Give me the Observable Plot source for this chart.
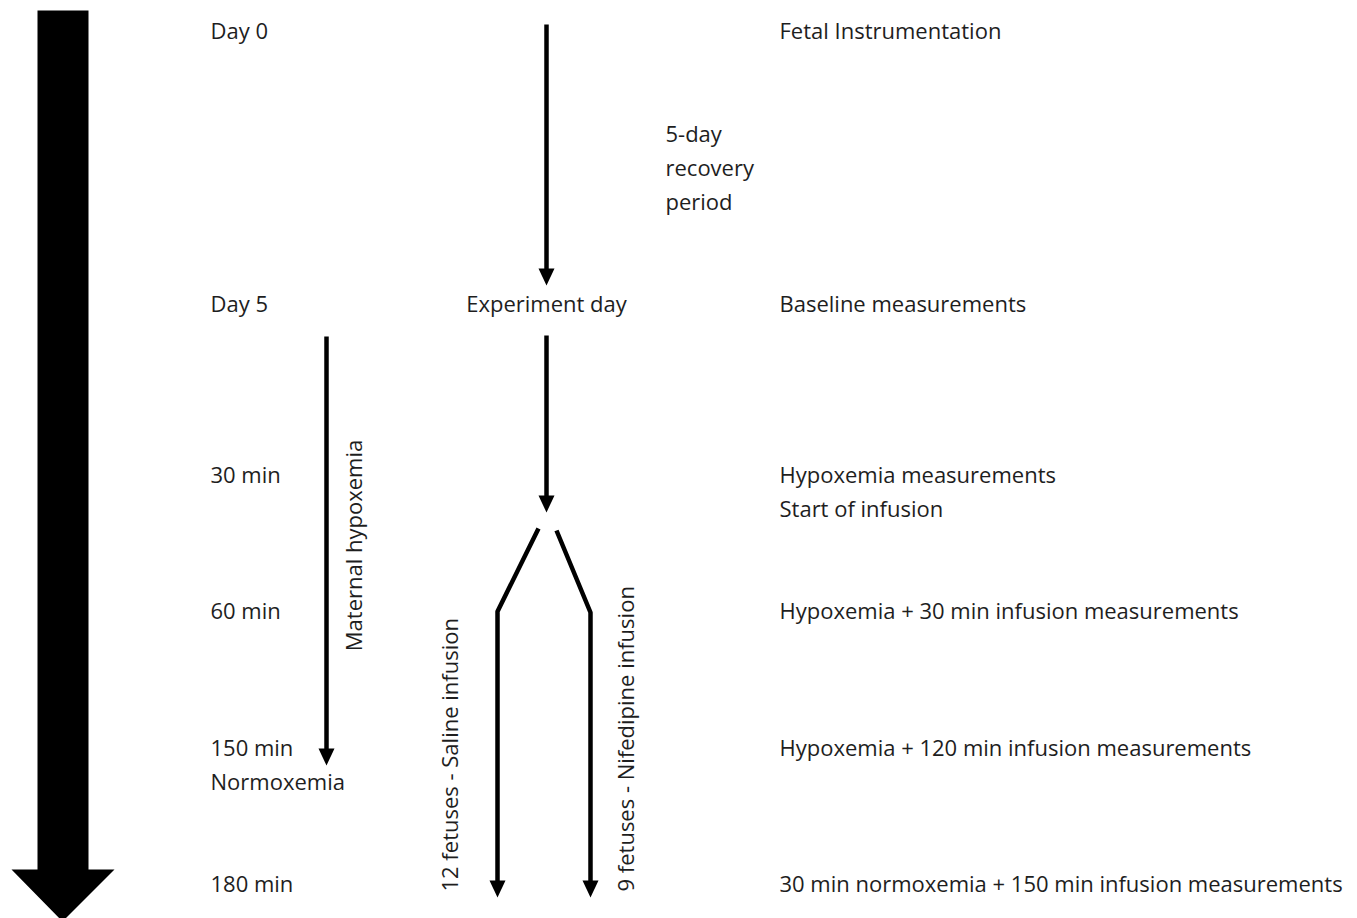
<!DOCTYPE html>
<html><head><meta charset="utf-8">
<script src="https://cdn.jsdelivr.net/npm/d3@7"></script>
<script src="https://cdn.jsdelivr.net/npm/@observablehq/plot@0.6"></script>
<style>body{margin:0;background:#fff;overflow:hidden}</style>
</head><body><div id="chart"></div>
<script>
// Timeline stages (left column) and their row positions in diagram units
const stageLabels = ["Day 0", "Day 5", "30 min", "60 min", "150 min", "Normoxemia", "180 min"];
const stageRows   = [31, 304, 475, 611, 748, 782, 884];
// Events (right column)
const eventLabels = ["Fetal Instrumentation", "Baseline measurements", "Hypoxemia measurements", "Start of infusion",
  "Hypoxemia + 30 min infusion measurements", "Hypoxemia + 120 min infusion measurements",
  "30 min normoxemia + 150 min infusion measurements"];
const eventRows   = [31, 304, 475, 509, 611, 748, 884];
// Middle flow labels
const flowLabels = ["5-day", "recovery", "period", "Experiment day"];
const flowRows   = [134, 168, 202, 304];
// Vertical (rotated) labels
const sideLabels = ["Maternal hypoxemia", "12 fetuses - Saline infusion", "9 fetuses - Nifedipine infusion"];
// Arrow paths (name, points), the last point is the tip
const arrowNames = ["recovery", "experiment", "maternal", "saline", "nifedipine"];
const arrowPaths = [
  [[546, 24], [546, 285]],
  [[546, 335], [546, 512]],
  [[326, 336], [326, 765]],
  [[538, 528], [497, 611], [497, 897]],
  [[556, 530], [590, 612], [590, 897]]
];

const W = 1357, H = 918;
const font = "'Open Sans', sans-serif";
const fs = 22;
const ink = "#1e1e1e";
const headLen = 17, headHalf = 8;

const shafts = [], heads = [];
arrowPaths.forEach((pts, i) => {
  const tip = pts[pts.length - 1];
  pts.forEach((p, j) => {
    const y = j === pts.length - 1 ? p[1] - headLen + 2 : p[1];
    shafts.push({id: arrowNames[i], x: p[0], y});
  });
  [[tip[0] - headHalf, tip[1] - headLen], [tip[0] + headHalf, tip[1] - headLen], [tip[0], tip[1]]]
    .forEach(([x, y]) => heads.push({id: arrowNames[i], x, y}));
});

// Big timeline arrow on the left
const bigArrow = [[37, 10], [88, 10], [88, 869], [114, 869], [62, 921], [11, 869], [37, 869]]
  .map(([x, y]) => ({x, y}));

const stages = stageLabels.map((t, i) => ({t, y: stageRows[i]}));
const events = eventLabels.map((t, i) => ({t, y: eventRows[i]}));
const flows = flowLabels.map((t, i) => ({t, y: flowRows[i], x: i < 3 ? 665 : 546, anchor: i < 3 ? "start" : "middle"}));
const sides = [
  {t: sideLabels[0], x: 354, y: 545, anchor: "middle"},
  {t: sideLabels[1], x: 450, y: 891, anchor: "start"},
  {t: sideLabels[2], x: 626, y: 891, anchor: "start"}
];

const chart = Plot.plot({
  width: W, height: H,
  margin: 0,
  x: {domain: [0, W], range: [0, W], axis: null},
  y: {domain: [0, H], range: [0, H], axis: null},
  style: {fontFamily: font, background: "#fff", overflow: "visible"},
  marks: [
    Plot.line(bigArrow, {x: "x", y: "y", fill: "#000", stroke: "none", curve: "linear-closed"}),
    Plot.line(shafts, {x: "x", y: "y", z: "id", stroke: "#000", strokeWidth: 4.5, strokeLinejoin: "miter", strokeLinecap: "butt"}),
    Plot.line(heads, {x: "x", y: "y", z: "id", fill: "#000", stroke: "none", curve: "linear-closed"}),
    Plot.text(stages, {x: () => 210, y: "y", text: "t", textAnchor: "start", fontSize: fs, fill: ink}),
    Plot.text(events, {x: () => 779, y: "y", text: "t", textAnchor: "start", fontSize: fs, fill: ink}),
    Plot.text(flows, {x: "x", y: "y", text: "t", textAnchor: "start", fontSize: fs, fill: ink, filter: d => d.anchor === "start"}),
    Plot.text(flows, {x: "x", y: "y", text: "t", textAnchor: "middle", fontSize: fs, fill: ink, filter: d => d.anchor === "middle"}),
    Plot.text(sides, {x: "x", y: "y", text: "t", rotate: -90, textAnchor: "middle", fontSize: fs, fill: ink, filter: d => d.anchor === "middle"}),
    Plot.text(sides, {x: "x", y: "y", text: "t", rotate: -90, textAnchor: "start", fontSize: fs, fill: ink, filter: d => d.anchor === "start"})
  ]
});
document.getElementById("chart").appendChild(chart);
</script>
</body></html>
